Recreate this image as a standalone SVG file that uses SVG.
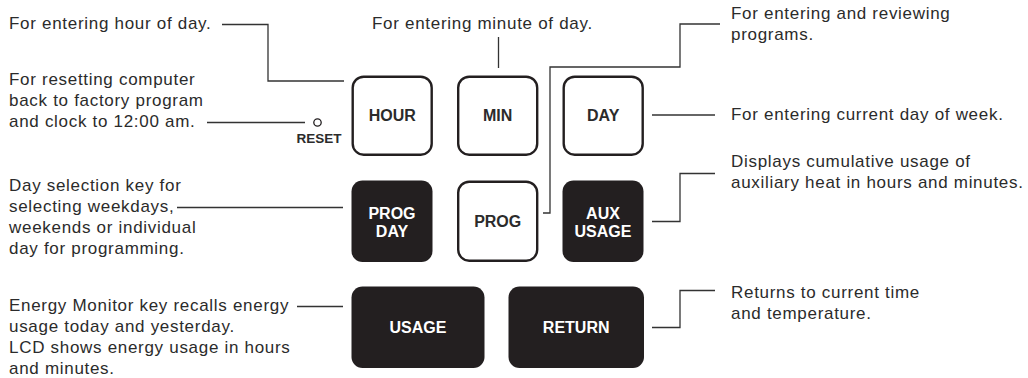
<svg xmlns="http://www.w3.org/2000/svg" width="1028" height="378" viewBox="0 0 1028 378">
<style>
.lbl{font-family:"Liberation Sans",Arial,sans-serif;font-size:17px;letter-spacing:0.7px;fill:#2b2b2b}
.key{font-family:"Liberation Sans",Arial,sans-serif;font-size:16px;font-weight:bold;text-anchor:middle}
.dk rect{fill:#231f20}
.dk text{fill:#ffffff}
.lt rect{fill:#ffffff;stroke:#231f20;stroke-width:2.4}
.lt text{fill:#2b2b2b}
.conn{fill:none;stroke:#333333;stroke-width:1.3}
</style>
<rect width="1028" height="378" fill="#ffffff"/>
<g id="connectors" class="conn">
<path d="M222,24.5 H268 V81 H344"/>
<path d="M498.5,37 V68"/>
<path d="M720,24 H680 V67 H550 V213 H543"/>
<path d="M652,115 H715"/>
<path d="M715,173.5 H680 V221.5 H652"/>
<path d="M715,290.5 H680 V327.5 H652"/>
<path d="M207,122.5 H305"/>
<path d="M177,207.5 H343"/>
<path d="M297,306.5 H343"/>
</g>
<g id="reset">
<circle cx="317.5" cy="122.5" r="3.7" fill="#ffffff" stroke="#231f20" stroke-width="1.3"/>
<text x="319" y="142.7" text-anchor="middle" style="font-family:'Liberation Sans',Arial,sans-serif;font-size:13.5px;font-weight:bold;fill:#2b2b2b">RESET</text>
</g>
<g id="key-hour" class="lt"><rect x="352.7" y="76.7" width="79" height="78" rx="11"/><text class="key" x="392.2" y="121.4">HOUR</text></g>
<g id="key-min" class="lt"><rect x="458.2" y="76.7" width="79" height="78" rx="11"/><text class="key" x="497.7" y="121.4">MIN</text></g>
<g id="key-day" class="lt"><rect x="563.7" y="76.7" width="79" height="78" rx="11"/><text class="key" x="603.2" y="121.4">DAY</text></g>
<g id="key-progday" class="dk"><rect x="351.5" y="180.5" width="81" height="81.5" rx="11"/><text class="key" x="392" y="218.5">PROG</text><text class="key" x="392" y="237">DAY</text></g>
<g id="key-prog" class="lt"><rect x="458.2" y="181.7" width="79" height="79" rx="11"/><text class="key" x="497.7" y="227">PROG</text></g>
<g id="key-auxusage" class="dk"><rect x="562.5" y="180.5" width="81" height="81.5" rx="11"/><text class="key" x="603" y="218.5">AUX</text><text class="key" x="603" y="237">USAGE</text></g>
<g id="key-usage" class="dk"><rect x="351.5" y="286.5" width="133" height="81.5" rx="11"/><text class="key" x="418" y="333.2">USAGE</text></g>
<g id="key-return" class="dk"><rect x="508.5" y="286.5" width="135.5" height="81.5" rx="11"/><text class="key" x="576.2" y="333.2">RETURN</text></g>
<g id="label-hour"><text class="lbl" x="9" y="29">For entering hour of day.</text></g>
<g id="label-reset"><text class="lbl" x="9" y="85">For resetting computer</text><text class="lbl" x="9" y="106">back to factory program</text><text class="lbl" x="9" y="127">and clock to 12:00 am.</text></g>
<g id="label-progday"><text class="lbl" x="9" y="191">Day selection key for</text><text class="lbl" x="9" y="212">selecting weekdays,</text><text class="lbl" x="9" y="233">weekends or individual</text><text class="lbl" x="9" y="254">day for programming.</text></g>
<g id="label-usage"><text class="lbl" x="9" y="311">Energy Monitor key recalls energy</text><text class="lbl" x="9" y="332">usage today and yesterday.</text><text class="lbl" x="9" y="353">LCD shows energy usage in hours</text><text class="lbl" x="9" y="374">and minutes.</text></g>
<g id="label-min"><text class="lbl" x="372" y="29">For entering minute of day.</text></g>
<g id="label-prog"><text class="lbl" x="731" y="19">For entering and reviewing</text><text class="lbl" x="731" y="40">programs.</text></g>
<g id="label-day"><text class="lbl" x="731" y="120">For entering current day of week.</text></g>
<g id="label-aux"><text class="lbl" x="731" y="167">Displays cumulative usage of</text><text class="lbl" x="731" y="188">auxiliary heat in hours and minutes.</text></g>
<g id="label-return"><text class="lbl" x="731" y="298">Returns to current time</text><text class="lbl" x="731" y="319">and temperature.</text></g>
</svg>
